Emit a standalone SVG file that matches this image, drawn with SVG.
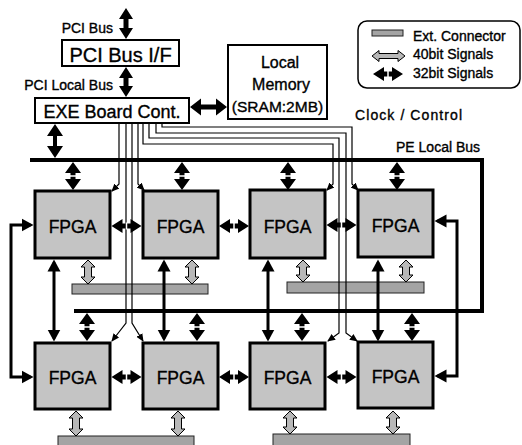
<svg xmlns="http://www.w3.org/2000/svg" xmlns:xlink="http://www.w3.org/1999/xlink" width="522" height="445" viewBox="0 0 522 445">
<style>
text{font-family:"Liberation Sans",Arial,sans-serif;fill:#000;stroke:#000;stroke-width:0.35}
.box{fill:#fff;stroke:#000;stroke-width:2}
.fpga{fill:#c4c4c4;stroke:#000;stroke-width:3}
.ft{font-size:17.5px;text-anchor:middle}
.bar{fill:#a4a4a4;stroke:#222;stroke-width:1}
.ga{fill:#b8b8b8;stroke:#000;stroke-width:1}
.thin{fill:none;stroke:#000;stroke-width:1.2;marker-end:url(#sm)}
.bus{fill:none;stroke:#000;stroke-width:4}
.long{fill:none;stroke:#000;stroke-width:3;marker-start:url(#ah);marker-end:url(#ah)}
.blk{fill:#000}
.tick{stroke:#fff;stroke-width:1.5}
</style>
<defs>
<marker id="ah" markerUnits="userSpaceOnUse" markerWidth="14" markerHeight="14" viewBox="0 0 14 14" refX="9" refY="7" orient="auto-start-reverse"><path d="M0,0.5 L12,7 L0,13.5 Z" fill="#000"/></marker>
<marker id="sm" markerUnits="userSpaceOnUse" markerWidth="9" markerHeight="9" viewBox="0 0 9 9" refX="7" refY="4.5" orient="auto"><path d="M0,1 L8,4.5 L0,8 Z" fill="#000"/></marker>
<g id="vb"><path class="blk" d="M0,0 L8,11 L2.5,11 L2.5,17 L8,17 L0,28 L-8,17 L-2.5,17 L-2.5,11 L-8,11 Z"/><path class="tick" d="M-3.5,14 H3.5"/></g>
<g id="hb"><path class="blk" d="M0,0 L11,-7 L11,-2.5 L19,-2.5 L19,-7 L30,0 L19,7 L19,2.5 L11,2.5 L11,7 Z"/><path class="tick" d="M15,-3.5 V3.5"/></g>
</defs>
<rect width="522" height="445" fill="#fff"/>

<!-- connector bars -->
<g id="ext-connectors">
<rect class="bar" x="72" y="284" width="136" height="10"/>
<rect class="bar" x="287" y="282" width="137" height="11"/>
<rect class="bar" x="58" y="436" width="136" height="12"/>
<rect class="bar" x="273" y="434" width="137" height="12"/>
</g>

<g id="connectors">
<!-- clock / control thin lines -->
<polyline class="thin" points="119,123 119,184 112,191"/>
<polyline class="thin" points="138,123 138,184 144,190"/>
<polyline class="thin" points="126,123 126,323 112,341"/>
<polyline class="thin" points="132,123 132,323 143,341"/>
<polyline class="thin" points="143,123 143,144 333,144 333,184 327,190"/>
<polyline class="thin" points="162,123 162,127 352,127 352,184 358,190"/>
<polyline class="thin" points="149,123 149,138 339,138 339,333 328,341"/>
<polyline class="thin" points="156,123 156,133 346,133 346,333 357,341"/>
<!-- PE local bus -->
<polyline class="bus" points="30,160 482,160 482,311 74,311"/>
<!-- long inter-row connections -->
<line class="long" x1="54" y1="262.5" x2="54" y2="338.5"/>
<line class="long" x1="164" y1="262.5" x2="164" y2="338.5"/>
<line class="long" x1="268" y1="262.5" x2="268" y2="338.5"/>
<line class="long" x1="378" y1="262.5" x2="378" y2="338.5"/>
<polyline class="long" points="30.5,225 11,225 11,377 30.5,377"/>
<polyline class="long" points="437.5,221 457,221 457,376 437.5,376"/>
<!-- PCI arrows -->
<path class="blk" d="M126,8 L133,19 L128.5,19 L128.5,28 L133,28 L126,39 L119,28 L123.5,28 L123.5,19 L119,19 Z"/>
<path class="blk" d="M126,67 L133,78 L128.5,78 L128.5,86 L133,86 L126,97 L119,86 L123.5,86 L123.5,78 L119,78 Z"/>
<!-- EXE to bus -->
<path class="blk" d="M55,124 L63,136 L57,136 L57,146 L63,146 L55,158 L47,146 L53,146 L53,136 L47,136 Z"/>
<!-- EXE to memory -->
<path class="blk" d="M190,107 L201,98.5 L201,104.5 L216,104.5 L216,98.5 L227,107 L216,115.5 L216,109.5 L201,109.5 L201,115.5 Z"/>
<!-- bus to FPGA arrows -->
<use xlink:href="#vb" x="73" y="162"/>
<use xlink:href="#vb" x="182" y="162"/>
<use xlink:href="#vb" x="288" y="162"/>
<use xlink:href="#vb" x="397" y="162"/>
<use xlink:href="#vb" x="87" y="313"/>
<use xlink:href="#vb" x="197" y="313"/>
<use xlink:href="#vb" x="302" y="313"/>
<use xlink:href="#vb" x="412" y="313"/>
<!-- FPGA to FPGA -->
<use xlink:href="#hb" x="111.5" y="226"/>
<use xlink:href="#hb" x="219" y="226"/>
<use xlink:href="#hb" x="326.5" y="225"/>
<use xlink:href="#hb" x="111.5" y="377"/>
<use xlink:href="#hb" x="219" y="377"/>
<use xlink:href="#hb" x="326.5" y="377"/>
<!-- 40bit arrows -->
<path class="ga" d="M88,260 L95,267 L91.5,267 L91.5,277 L95,277 L88,284 L81,277 L84.5,277 L84.5,267 L81,267 Z"/>
<path class="ga" d="M192,260 L199,267 L195.5,267 L195.5,277 L199,277 L192,284 L185,277 L188.5,277 L188.5,267 L185,267 Z"/>
<path class="ga" d="M303,260 L310,267 L306.5,267 L306.5,275 L310,275 L303,282 L296,275 L299.5,275 L299.5,267 L296,267 Z"/>
<path class="ga" d="M406,260 L413,267 L409.5,267 L409.5,275 L413,275 L406,282 L399,275 L402.5,275 L402.5,267 L399,267 Z"/>
<path class="ga" d="M76,411 L83,418 L79.5,418 L79.5,429 L83,429 L76,436 L69,429 L72.5,429 L72.5,418 L69,418 Z"/>
<path class="ga" d="M178,411 L185,418 L181.5,418 L181.5,429 L185,429 L178,436 L171,429 L174.5,429 L174.5,418 L171,418 Z"/>
<path class="ga" d="M290,411 L297,418 L293.5,418 L293.5,427 L297,427 L290,434 L283,427 L286.5,427 L286.5,418 L283,418 Z"/>
<path class="ga" d="M393,411 L400,418 L396.5,418 L396.5,427 L400,427 L393,434 L386,427 L389.5,427 L389.5,418 L386,418 Z"/>
</g>

<g id="pci-bus-if">
<rect class="box" x="62" y="40" width="117" height="26"/>
<text x="120.5" y="62" font-size="20" text-anchor="middle">PCI Bus I/F</text>
</g>
<g id="exe-board-cont">
<rect class="box" x="35" y="98" width="154" height="25"/>
<text x="112" y="118" font-size="18" text-anchor="middle">EXE Board Cont.</text>
</g>
<g id="local-memory">
<rect class="box" x="228" y="45" width="99" height="74"/>
<text x="280" y="68" font-size="16" text-anchor="middle">Local</text>
<text x="281" y="90" font-size="16" text-anchor="middle">Memory</text>
<text x="277.5" y="112" font-size="15.5" text-anchor="middle">(SRAM:2MB)</text>
</g>

<g id="fpga1"><rect class="fpga" x="35" y="191" width="75" height="67"/><text class="ft" x="72.5" y="233">FPGA</text></g>
<g id="fpga2"><rect class="fpga" x="143" y="191" width="75" height="67"/><text class="ft" x="180.5" y="233">FPGA</text></g>
<g id="fpga3"><rect class="fpga" x="250" y="190" width="75" height="68"/><text class="ft" x="287.5" y="233">FPGA</text></g>
<g id="fpga4"><rect class="fpga" x="358" y="190" width="75" height="67"/><text class="ft" x="395.5" y="232">FPGA</text></g>
<g id="fpga5"><rect class="fpga" x="35" y="343" width="75" height="66"/><text class="ft" x="72.5" y="384">FPGA</text></g>
<g id="fpga6"><rect class="fpga" x="143" y="343" width="75" height="66"/><text class="ft" x="180.5" y="384">FPGA</text></g>
<g id="fpga7"><rect class="fpga" x="250" y="343" width="75" height="66"/><text class="ft" x="287.5" y="384">FPGA</text></g>
<g id="fpga8"><rect class="fpga" x="358" y="342" width="75" height="66"/><text class="ft" x="395.5" y="383">FPGA</text></g>

<g id="labels">
<text x="113" y="33" font-size="14" text-anchor="end">PCI Bus</text>
<text x="113" y="90" font-size="14" text-anchor="end">PCI Local Bus</text>
<text x="355" y="120" font-size="14" textLength="107" lengthAdjust="spacing">Clock / Control</text>
<text x="396" y="152" font-size="14">PE Local Bus</text>
</g>

<g id="legend">
<rect x="358" y="21" width="162" height="67" rx="9" fill="#fff" stroke="#000" stroke-width="1.5"/>
<rect class="bar" x="372" y="30" width="31" height="6"/>
<path class="ga" d="M372,56 L379,50.5 L379,53.5 L398,53.5 L398,50.5 L405,56 L398,61.5 L398,58.5 L379,58.5 L379,61.5 Z"/>
<use xlink:href="#hb" x="373" y="74"/>
<text x="413" y="41" font-size="14">Ext. Connector</text>
<text x="413" y="59" font-size="14">40bit Signals</text>
<text x="413" y="78" font-size="14">32bit Signals</text>
</g>
</svg>
